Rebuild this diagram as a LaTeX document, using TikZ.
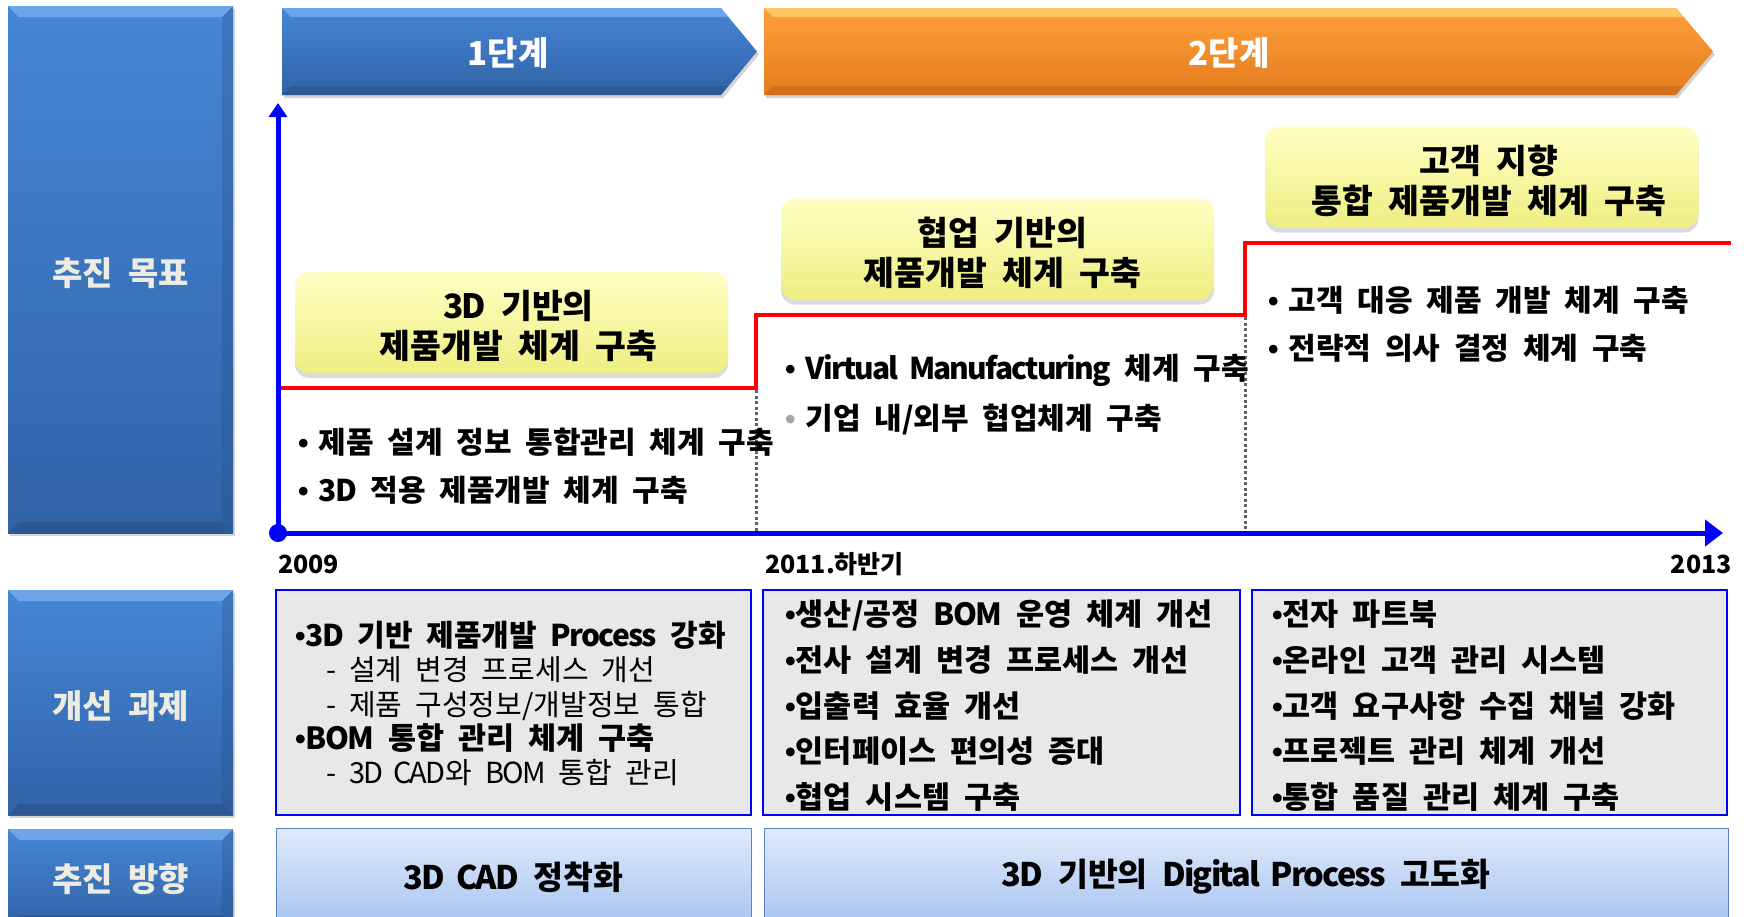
\documentclass[tikz,border=0pt]{standalone}
\usepackage{fontspec}
\setmainfont{Noto Sans CJK KR}[WordSpace=2]
\newfontfamily\latfont{Noto Sans CJK KR}[WordSpace=2,LetterSpace=-6]
\newfontfamily\bulletfont{Liberation Sans}
\usetikzlibrary{shadows,arrows.meta}
\definecolor{secTop}{HTML}{4686D6}
\definecolor{secBot}{HTML}{3163A7}
\definecolor{secHi}{HTML}{7DB4F2}
\definecolor{secLo}{HTML}{24497D}
\definecolor{orgTop}{HTML}{FFA03A}
\definecolor{orgBot}{HTML}{E47B1D}
\definecolor{orgHi}{HTML}{FFD070}
\definecolor{orgLo}{HTML}{B85E12}
\definecolor{lblTxt}{HTML}{EEECE1}
\definecolor{ylwTop}{HTML}{FFFFC4}
\definecolor{ylwBot}{HTML}{EEEE82}
\definecolor{ltTop}{HTML}{E0EAFA}
\definecolor{ltBot}{HTML}{A7C4F1}
\definecolor{ltEdge}{HTML}{5B84C4}
\definecolor{boxGray}{HTML}{E8E8E8}
\newcommand{\bu}{{\bulletfont •}}
\newcommand{\bus}{{\bulletfont •}\hspace{10pt}}
\newcommand{\lat}[1]{{\latfont #1}}
\newcommand{\mybevel}[2]{%
  \fill[#1,opacity=.7] (path picture bounding box.north west) -- (path picture bounding box.north east)
    -- ([shift={(-11pt,-11pt)}]path picture bounding box.north east) -- ([shift={(11pt,-11pt)}]path picture bounding box.north west) -- cycle;
  \fill[#2,opacity=.45] (path picture bounding box.south west) -- (path picture bounding box.south east)
    -- ([shift={(-11pt,11pt)}]path picture bounding box.south east) -- ([shift={(11pt,11pt)}]path picture bounding box.south west) -- cycle;
  \fill[#2,opacity=.25] (path picture bounding box.north east) -- (path picture bounding box.south east)
    -- ([shift={(-11pt,11pt)}]path picture bounding box.south east) -- ([shift={(-11pt,-11pt)}]path picture bounding box.north east) -- cycle;
}
\begin{document}
\begin{tikzpicture}[x=1pt,y=-1pt,
  secbox/.style={rectangle, inner sep=0pt, minimum width=225pt, top color=secTop, bottom color=secBot,
    drop shadow={shadow xshift=2pt, shadow yshift=-3pt, opacity=0.35},
    path picture={\mybevel{secHi}{secLo}}},
  seclbl/.style={inner sep=0pt, text=lblTxt, font=\bfseries\fontsize{33}{38}\selectfont},
  phase/.style={inner sep=0pt, text=white, font=\bfseries\fontsize{33}{38}\selectfont},
  ybox/.style={rectangle, rounded corners=14pt, top color=ylwTop, bottom color=ylwBot,
    minimum width=433pt, minimum height=101pt, inner sep=0pt,
    drop shadow={shadow xshift=0pt, shadow yshift=-5pt, opacity=0.28}},
  ytext/.style={inner sep=0pt, align=center, font=\bfseries\fontsize{33.5}{40}\selectfont},
  upb/.style={inner sep=0pt, anchor=west, font=\bfseries\fontsize{30}{36}\selectfont, text height=24pt, text depth=3pt},
  yr/.style={inner sep=0pt, font=\bfseries\fontsize{25}{30}\selectfont, text height=20pt, text depth=2pt},
  gbox/.style={rectangle, draw=blue, line width=2.5pt, fill=boxGray, minimum height=225pt, inner sep=0pt},
  boxb/.style={inner sep=0pt, anchor=west, font=\bfseries\fontsize{30.5}{36}\selectfont, text height=24pt, text depth=3pt},
  boxr/.style={inner sep=0pt, anchor=west, font=\fontsize{29}{34}\selectfont, text height=23pt, text depth=3pt},
  lbox/.style={rectangle, draw=ltEdge, line width=1pt, top color=ltTop, bottom color=ltBot,
    minimum height=98pt, inner sep=0pt},
  ltext/.style={inner sep=0pt, font=\bfseries\fontsize{32.5}{38}\selectfont},
  axisline/.style={blue, line width=5pt},
  stepline/.style={red, line width=4.5pt},
  divider/.style={gray!75!black, line width=3pt, dash pattern=on 3pt off 2.5pt}
]
\useasboundingbox (0,0) rectangle (1752,916);

% left section labels
\node[secbox, minimum height=527pt] (goal) at (120.5,269.5) {};
\node[secbox, minimum height=225pt] (task) at (120.5,702.5) {};
\node[secbox, minimum height=97pt] (dir) at (120.5,877.5) {};
\node[seclbl] (goalt) at (120.5,273) {추진 목표};
\node[seclbl] (taskt) at (120.5,706) {개선 과제};
\node[seclbl] (dirt) at (120.5,879) {추진 방향};

% phase chevrons
\path[top color=secTop, bottom color=secBot, drop shadow={shadow xshift=2pt, shadow yshift=-3pt, opacity=0.35}]
  (282,8) -- (721,8) -- (757,51.5) -- (721,95) -- (282,95) -- cycle;
\fill[secHi,opacity=.7] (282,8) -- (721,8) -- (728,17) -- (291,17) -- cycle;
\fill[secLo,opacity=.4] (282,95) -- (721,95) -- (728,86) -- (291,86) -- cycle;
\path[top color=orgTop, bottom color=orgBot, drop shadow={shadow xshift=2pt, shadow yshift=-3pt, opacity=0.35}]
  (764,8) -- (1676,8) -- (1713,51.5) -- (1676,95) -- (764,95) -- cycle;
\fill[orgHi,opacity=.8] (764,8) -- (1676,8) -- (1683,17) -- (773,17) -- cycle;
\fill[orgLo,opacity=.4] (764,95) -- (1676,95) -- (1683,86) -- (773,86) -- cycle;
\node[phase] (p1) at (508,53) {1단계};
\node[phase] (p2) at (1229,53) {2단계};

% goal boxes
\node[ybox] (g1) at (511.5,322.5) {};
\node[ybox] (g2) at (997.5,249) {};
\node[ybox] (g3) at (1482,177) {};
\node[ytext] (g1t) at ([shift={(7pt,-3.5pt)}]g1.center) {\lat{3D} 기반의\\제품개발 체계 구축};
\node[ytext] (g2t) at ([shift={(5pt,-3.5pt)}]g2.center) {협업 기반의\\제품개발 체계 구축};
\node[ytext] (g3t) at ([shift={(7pt,-3.5pt)}]g3.center) {고객 지향\\통합 제품개발 체계 구축};

% dividers and step line
\coordinate (d1t) at (756,390); \coordinate (d1b) at (756,531);
\coordinate (d2t) at (1245,317); \coordinate (d2b) at (1245,531);
\draw[divider] (d1t) -- (d1b);
\draw[divider] (d2t) -- (d2b);
\coordinate (s0) at (276,388); \coordinate (s1) at (756,388); \coordinate (s2) at (756,315);
\coordinate (s3) at (1245,315); \coordinate (s4) at (1245,243); \coordinate (s5) at (1731,243);
\draw[stepline] (s0) -- (s1) -- (s2) -- (s3) -- (s4) -- (s5);

% axes
\coordinate (O) at (278,533);
\coordinate (Ytop) at (278,103);
\coordinate (Xend) at (1723,533);
\draw[axisline, -{Triangle[length=14pt,width=18pt]}] (O) -- (Ytop);
\draw[axisline, -{Triangle[length=18pt,width=26pt]}] (O) -- (Xend);
\fill[blue] (O) circle (9pt);

% bullet texts
\node[upb] (a1) at (298,443) {\bus 제품 설계 정보 통합관리 체계 구축};
\node[upb] (a2) at (298,491) {\bus\lat{3D} 적용 제품개발 체계 구축};
\node[upb] (b1) at (785,369) {\bus\lat{Virtual Manufacturing} 체계 구축};
\node[upb] (b2) at (785,419) {\textcolor{gray!70}{\bu}\hspace{10pt}기업 내/외부 협업체계 구축};
\node[upb] (c1) at (1268,301) {\bus 고객 대응 제품 개발 체계 구축};
\node[upb] (c2) at (1268,349) {\bus 전략적 의사 결정 체계 구축};

% years
\node[yr, anchor=west] (y1) at (278,564) {2009};
\node[yr, anchor=west] (y2) at (765,564) {2011.하반기};
\node[yr, anchor=east] (y3) at (1732,564) {2013};

% task boxes
\node[gbox, minimum width=475pt] (ta) at (513.5,702.5) {};
\node[gbox, minimum width=477pt] (tb) at (1001.5,702.5) {};
\node[gbox, minimum width=475pt] (tc) at (1489.5,702.5) {};

\node[boxb, font=\bfseries\fontsize{30}{36}\selectfont] (ta1) at (295,636) {\bu\lat{3D} 기반 제품개발 \lat{Process} 강화};
\node[boxr] (ta2) at (326,670) {- 설계 변경 프로세스 개선};
\node[boxr] (ta3) at (326,705) {- 제품 구성정보/개발정보 통합};
\node[boxb] (ta4) at (295,739) {\bu\lat{BOM} 통합 관리 체계 구축};
\node[boxr] (ta5) at (326,773) {- \lat{3D CAD}와 \lat{BOM} 통합 관리};

\node[boxb] (tb1) at (785,615) {\bu 생산/공정 \lat{BOM} 운영 체계 개선};
\node[boxb] (tb2) at (785,661) {\bu 전사 설계 변경 프로세스 개선};
\node[boxb] (tb3) at (785,707) {\bu 입출력 효율 개선};
\node[boxb] (tb4) at (785,752) {\bu 인터페이스 편의성 증대};
\node[boxb] (tb5) at (785,798) {\bu 협업 시스템 구축};

\node[boxb] (tc1) at (1272,615) {\bu 전자 파트북};
\node[boxb] (tc2) at (1272,661) {\bu 온라인 고객 관리 시스템};
\node[boxb] (tc3) at (1272,707) {\bu 고객 요구사항 수집 채널 강화};
\node[boxb] (tc4) at (1272,752) {\bu 프로젝트 관리 체계 개선};
\node[boxb] (tc5) at (1272,798) {\bu 통합 품질 관리 체계 구축};

% direction boxes
\node[lbox, minimum width=475pt] (da) at (513.5,877) {};
\node[lbox, minimum width=964pt] (db) at (1246,877) {};
\node[ltext] (dat) at (da.center) {\lat{3D CAD} 정착화};
\node[ltext] (dbt) at (db.center) {\lat{3D} 기반의 \lat{Digital Process} 고도화};
\end{tikzpicture}
\end{document}
